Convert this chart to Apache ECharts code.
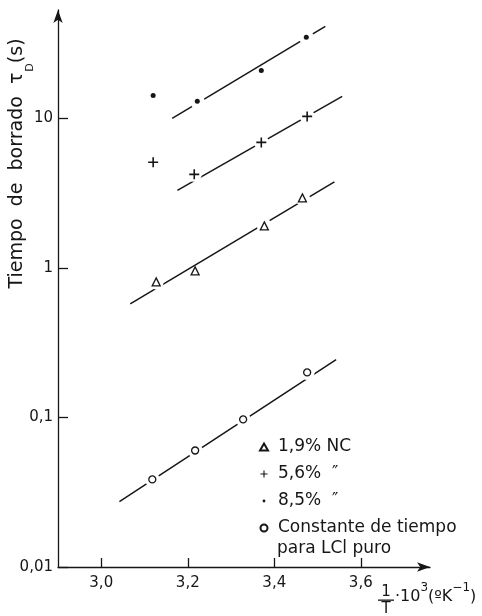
<!DOCTYPE html>
<html><head><meta charset="utf-8">
<script src="https://cdn.jsdelivr.net/npm/echarts@6/dist/echarts.min.js"></script>
<style>html,body{margin:0;padding:0;background:#fff}#c{width:482px;height:616px}</style>
</head><body><div id="c"></div>
<script>
// ---- data ----
const xTicks = [3.0, 3.2, 3.4, 3.6];
const yTicks = [0.01, 0.1, 1, 10];
const names = ['1,9% NC', '5,6%  \u2033', '8,5%  \u2033', 'Constante de tiempo'];
const nameExtra = 'para LCl puro';
const nc19 = [[3.127, 0.806], [3.217, 0.955], [3.377, 1.91], [3.465, 2.94]];
const nc56 = [[3.120, 5.08], [3.215, 4.22], [3.370, 6.90], [3.476, 10.3]];
const nc85 = [[3.120, 14.2], [3.222, 13.0], [3.370, 20.9], [3.474, 34.8]];
const lcl  = [[3.118, 0.0385], [3.217, 0.0601], [3.328, 0.097], [3.476, 0.200]];
const fit19  = [[3.067, 0.574], [3.539, 3.76]];
const fit56  = [[3.176, 3.30], [3.557, 14.0]];
const fit85  = [[3.164, 10.0], [3.518, 41.2]];
const fitLcl = [[3.042, 0.0274], [3.543, 0.244]];
// which points interrupt their fitted line in the original drawing
const breaks19 = [0, 2, 3];
const breaks56 = [1, 2, 3];
const breaks85 = [1, 3];
const breaksLcl = [0, 1, 2, 3];

// ---- styles ----
const INK = '#161616';
const FONT = 'DejaVu Sans';
const plusPath = 'path://M4.2,0h1.6v10h-1.6zM0,4.2h10v1.6h-10z';
const dotLegend = 'path://M0,0M10,10M5,3a2,2 0 1,1 0,4a2,2 0 1,1 0,-4z';

function lineSeries(d) {
  return { type: 'line', data: d, symbol: 'none', silent: true, z: 1, zlevel: 0,
    lineStyle: { color: INK, width: 1.5 } };
}
const pick = (pts, idx) => idx.map(i => pts[i]);
const haloPts = pick(nc19, breaks19).concat(pick(nc56, breaks56), pick(nc85, breaks85), pick(lcl, breaksLcl));

const chart = echarts.init(document.getElementById('c'), null, { renderer: 'canvas' });
chart.setOption({
  animation: false,
  backgroundColor: '#fff',
  grid: { left: 58, right: 52, top: 10, bottom: 49, containLabel: false, outerBoundsMode: 'none' },
  xAxis: {
    type: 'value', min: 2.9, max: 3.76,
    axisLine: { show: true, lineStyle: { color: INK, width: 1.3 }, symbol: ['none', 'arrow'], symbolSize: [7, 13] },
    axisTick: { show: true, inside: true, length: 9, customValues: xTicks, lineStyle: { color: INK, width: 1.3 } },
    axisLabel: { customValues: xTicks, margin: 9, fontSize: 15, fontFamily: FONT, color: INK,
      formatter: v => v.toFixed(1).replace('.', ',') },
    splitLine: { show: false }
  },
  yAxis: {
    type: 'log', min: 0.01, max: 53,
    axisLine: { show: true, lineStyle: { color: INK, width: 1.3 }, symbol: ['none', 'arrow'], symbolSize: [7, 13] },
    axisTick: { show: true, inside: true, length: 10, customValues: yTicks, lineStyle: { color: INK, width: 1.3 } },
    axisLabel: { customValues: yTicks, margin: 5, fontSize: 15, fontFamily: FONT, color: INK,
      formatter: v => String(v).replace('.', ',') },
    splitLine: { show: false },
    name: '{a|Tiempo  de  borrado  \u03c4}{sub|D}{a|(s)}',
    nameLocation: 'middle', nameRotate: 90, nameGap: 28, nameMoveOverlap: false,
    nameTextStyle: {
      padding: [0, 0, 0, 250],
      rich: {
        a: { fontSize: 19, fontFamily: FONT, color: INK, lineHeight: 22, verticalAlign: 'top' },
        sub: { fontSize: 11, fontFamily: FONT, color: INK, lineHeight: 13, padding: [17, 0, 0, 1], verticalAlign: 'top' }
      }
    }
  },
  legend: {
    orient: 'vertical', left: 259, top: 437, padding: 0, zlevel: 2,
    itemWidth: 8, itemHeight: 7, itemGap: 7, selectedMode: false,
    textStyle: { fontSize: 17, fontFamily: FONT, color: INK, lineHeight: 20, padding: [0, 0, 0, 5] },
    data: [{ name: names[0] }, { name: names[1] }, { name: names[2], icon: dotLegend }, { name: names[3] }]
  },
  graphic: [
    { type: 'text', left: 277, top: 540, silent: true,
      style: { text: nameExtra, fontSize: 17, fontFamily: FONT, fill: INK } },
    { type: 'text', x: 386, y: 592, silent: true,
      style: { text: '1', fontSize: 15, fontFamily: FONT, fill: INK, align: 'center', verticalAlign: 'middle' } },
    { type: 'rect', shape: { x: 378, y: 599.5, width: 16, height: 1.3 }, style: { fill: INK }, silent: true },
    { type: 'text', x: 386, y: 609, silent: true,
      style: { text: 'T', fontSize: 15, fontFamily: FONT, fill: INK, align: 'center', verticalAlign: 'middle' } },
    { type: 'text', x: 395, y: 582, silent: true,
      style: {
        text: '{a|\u00b710}{sup|3}{a|(\u00baK}{sup|\u22121}{a|)}',
        rich: {
          a: { fontSize: 16, fontFamily: FONT, fill: INK, padding: [7, 0, 0, 0], verticalAlign: 'top' },
          sup: { fontSize: 12, fontFamily: FONT, fill: INK, verticalAlign: 'top' }
        }
      } }
  ],
  series: [
    lineSeries(fit19), lineSeries(fit56), lineSeries(fit85), lineSeries(fitLcl),
    { name: 'halo', type: 'scatter', data: haloPts, symbol: 'circle', symbolSize: 15, silent: true, z: 2, zlevel: 1,
      itemStyle: { color: '#ffffff', borderWidth: 0, opacity: 1 } },
    { name: names[0], type: 'scatter', data: nc19, symbol: 'triangle', symbolSize: 8, z: 3, zlevel: 1,
      itemStyle: { color: '#fff', borderColor: INK, borderWidth: 1.3, opacity: 1 } },
    { name: names[1], type: 'scatter', data: nc56, symbol: plusPath, symbolSize: 10, z: 3, zlevel: 1,
      itemStyle: { color: INK, opacity: 1 } },
    { name: names[2], type: 'scatter', data: nc85, symbol: 'circle', symbolSize: 5, z: 3, zlevel: 1,
      itemStyle: { color: INK, opacity: 1 } },
    { name: names[3], type: 'scatter', data: lcl, symbol: 'circle', symbolSize: 7, z: 3, zlevel: 1,
      itemStyle: { color: '#fff', borderColor: INK, borderWidth: 1.3, opacity: 1 } }
  ]
});
</script>
</body></html>
